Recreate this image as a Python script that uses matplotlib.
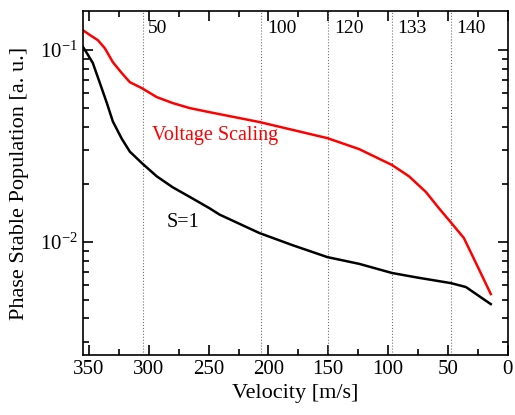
import numpy as np
import matplotlib.pyplot as plt
from matplotlib.ticker import MultipleLocator, LogLocator, NullFormatter

plt.rcParams['font.family'] = ['Liberation Serif', 'DejaVu Serif']
plt.rcParams['mathtext.fontset'] = 'custom'
plt.rcParams['mathtext.rm'] = 'Liberation Serif'

# Voltage scaling curve (velocity m/s, population)
v_volt = [355, 349, 342.5, 336.7, 330, 322.5, 315.8, 305.8, 293.3, 280, 265.8, 249.2,
          207.5, 150.8, 124.2, 96.7, 82.5, 68.3, 57.5, 47.5, 36.7, 25.8, 14.2]
p_volt = [0.127, 0.1197, 0.1127, 0.1023, 0.0866, 0.0759, 0.0681, 0.0634, 0.0569, 0.0530,
          0.0499, 0.0475, 0.0422, 0.0348, 0.0305, 0.0252, 0.0220, 0.0182, 0.0150,
          0.01265, 0.0105, 0.00759, 0.00536]

# S=1 curve
v_s1 = [355, 351.7, 346.7, 340.8, 335, 330, 322.5, 315.8, 305.8, 293.3, 280, 265.8,
        249.2, 240.8, 207.5, 180, 150.8, 124.2, 96.7, 76.7, 47.5, 35, 14.2]
p_s1 = [0.104, 0.0965, 0.0856, 0.0673, 0.0530, 0.0425, 0.0345, 0.0296, 0.0258, 0.0220,
        0.0193, 0.0172, 0.0150, 0.0139, 0.01114, 0.00964, 0.00835, 0.00770, 0.00690,
        0.00655, 0.00611, 0.00583, 0.00475]

# dotted reference lines and their labels
v_lines = [305, 206, 150, 97, 47.5]
line_labels = ['50', '100', '120', '133', '140']

fig = plt.figure(figsize=(5.15, 4.15), dpi=100)
ax = fig.add_axes([0.161, 0.1446, 0.825, 0.829])

for v, lab in zip(v_lines, line_labels):
    ax.axvline(v, color='0.45', linestyle=':', linewidth=0.8)
    ax.annotate(lab, xy=(v, 0.95), xycoords=('data', 'axes fraction'),
                xytext=(4, 0), textcoords='offset points',
                ha='left', va='center', fontsize=14)

ax.plot(v_volt, p_volt, color='red', linewidth=1.8)
ax.plot(v_s1, p_s1, color='black', linewidth=1.8)

ax.text(297, 0.036, 'Voltage Scaling', color='red', fontsize=14.5, va='center')
ax.text(285, 0.0126, 'S=1', color='black', fontsize=14.5, va='center')

ax.set_yscale('log')
ax.set_xlim(355, 0)
ax.set_ylim(0.00258, 0.16)
ax.xaxis.set_major_locator(MultipleLocator(50))
ax.xaxis.set_minor_locator(MultipleLocator(25))
ax.yaxis.set_major_locator(LogLocator(base=10))
ax.yaxis.set_minor_locator(LogLocator(base=10, subs=np.arange(2, 10)))
ax.yaxis.set_minor_formatter(NullFormatter())
ax.tick_params(which='both', direction='in', top=True, right=True, labelsize=15, width=1.2)
ax.tick_params(which='major', length=7)
ax.tick_params(which='minor', length=4)
for s in ax.spines.values():
    s.set_linewidth(1.2)

ax.set_xlabel('Velocity [m/s]', fontsize=16)
ax.set_ylabel('Phase Stable Population [a. u.]', fontsize=16, labelpad=8)

fig.savefig('out.png', dpi=100)
